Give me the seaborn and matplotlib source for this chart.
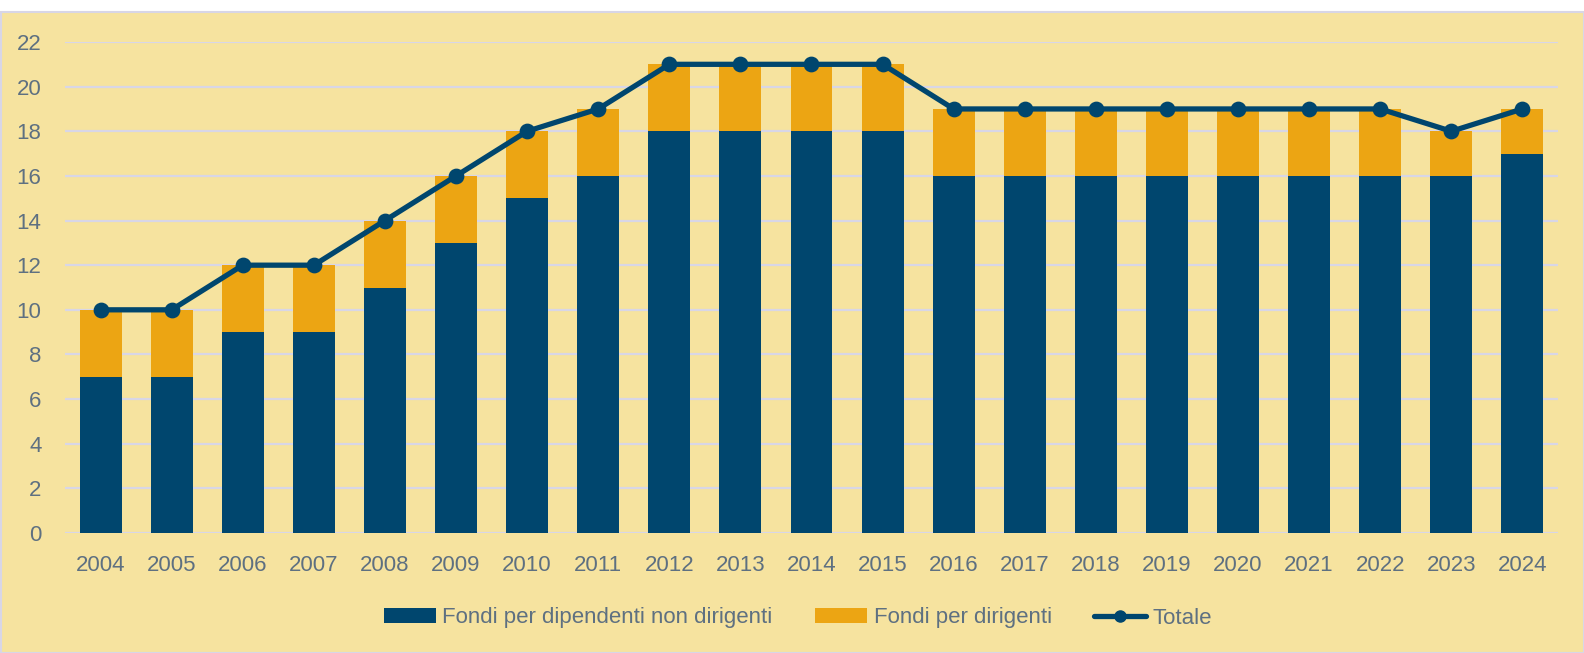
import matplotlib
matplotlib.use("Agg")
import matplotlib.pyplot as plt
import seaborn as sns
import pandas as pd
from matplotlib.patches import Patch, Rectangle
from matplotlib.lines import Line2D

# data
anni = [str(a) for a in range(2004, 2025)]
non_dirigenti = [7, 7, 9, 9, 11, 13, 15, 16, 18, 18, 18, 18, 16, 16, 16, 16, 16, 16, 16, 16, 17]
dirigenti = [3, 3, 3, 3, 3, 3, 3, 3, 3, 3, 3, 3, 3, 3, 3, 3, 3, 3, 3, 2, 2]
totale = [10, 10, 12, 12, 14, 16, 18, 19, 21, 21, 21, 21, 19, 19, 19, 19, 19, 19, 19, 18, 19]

navy = "#00466E"
orange = "#ECA513"
bg = "#F6E39F"
grid_c = "#D8D6E6"
txt_c = "#5E7081"

df = pd.DataFrame({"anno": anni, "non_dir": non_dirigenti, "dir": dirigenti, "tot": totale})
df["stack"] = df["non_dir"] + df["dir"]

sns.set_theme(style="white")
plt.rcParams["font.family"] = ["Liberation Sans", "DejaVu Sans"]

fig = plt.figure(figsize=(15.84, 6.53), dpi=100)
fig.patch.set_facecolor("white")
# yellow panel with thin border (white strip on top)
fig.patches.append(Rectangle((0.0005, 0), 0.9995, 1 - 12 / 653, transform=fig.transFigure,
                             facecolor=bg, edgecolor=grid_c, linewidth=1.5, zorder=-5))

ax = fig.add_axes([65 / 1584, 1 - 533 / 653, (1558 - 65) / 1584, (533 - 42) / 653])
ax.set_facecolor("none")

# stacked bars: total (orange) then the lower part (navy) on top
sns.barplot(data=df, x="anno", y="stack", color=orange, width=0.59, saturation=1,
            edgecolor="none", linewidth=0, ax=ax, zorder=2)
sns.barplot(data=df, x="anno", y="non_dir", color=navy, width=0.59, saturation=1,
            edgecolor="none", linewidth=0, ax=ax, zorder=3)
sns.pointplot(data=df, x="anno", y="tot", color=navy, markers="o", linewidth=3.8,
              markersize=8.5, ax=ax, zorder=4)
for c in ax.collections + ax.lines:
    c.set_clip_on(False)

ax.set_ylim(0, 22)
ax.set_xlim(-0.5, 20.5)
ax.set_yticks(range(0, 23, 2))
ax.yaxis.grid(True, color=grid_c, linewidth=1.6, zorder=0)
ax.set_axisbelow(True)
for s in ax.spines.values():
    s.set_visible(False)
ax.set_xlabel("")
ax.set_ylabel("")
ax.tick_params(axis="both", length=0, labelsize=16, labelcolor=txt_c)
ax.tick_params(axis="y", pad=17)
ax.tick_params(axis="x", pad=16)

handles = [Patch(facecolor=navy, edgecolor="none", label="Fondi per dipendenti non dirigenti"),
           Patch(facecolor=orange, edgecolor="none", label="Fondi per dirigenti"),
           Line2D([], [], color=navy, lw=3.8, marker="o", markersize=8, label="Totale")]
leg = fig.legend(handles=handles, loc="center", bbox_to_anchor=(798 / 1584, 1 - 618 / 653),
                 ncol=3, frameon=False, fontsize=16, handlelength=2.35, handleheight=0.65,
                 handletextpad=0.3, columnspacing=1.9)
for t in leg.get_texts():
    t.set_color(txt_c)

fig.savefig("out.png", dpi=100, facecolor=fig.get_facecolor())
